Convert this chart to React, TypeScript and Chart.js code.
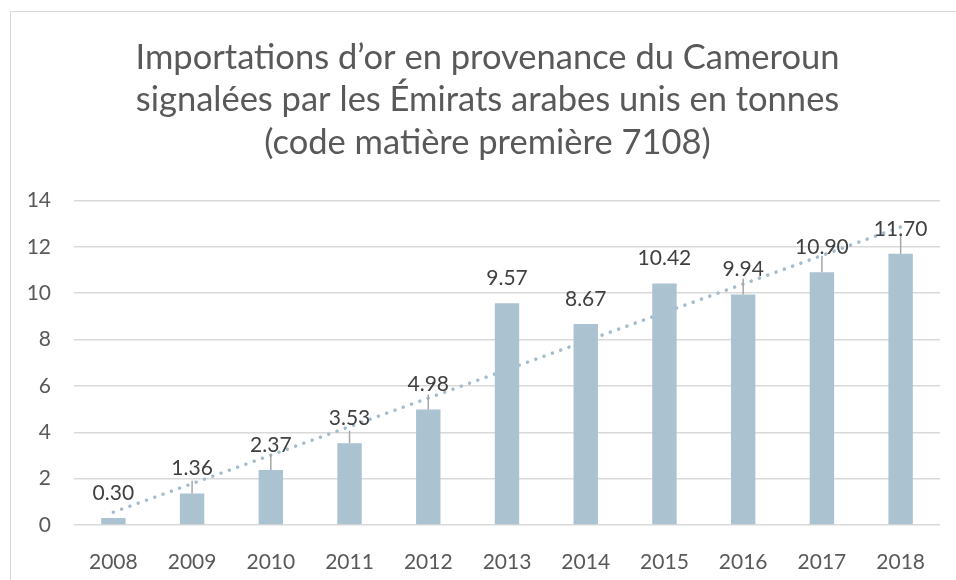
import React, { useEffect, useRef } from "react";
import { Chart, registerables } from "chart.js";

Chart.register(...registerables);

const titleLines = [
  "Importations d’or en provenance du Cameroun",
  "signalées par les Émirats arabes unis en tonnes",
  "(code matière première 7108)",
];
const years = ["2008", "2009", "2010", "2011", "2012", "2013", "2014", "2015", "2016", "2017", "2018"];
const tonnes = [0.3, 1.36, 2.37, 3.53, 4.98, 9.57, 8.67, 10.42, 9.94, 10.9, 11.7];
const errorPlus = [0, 0.55, 0.69, 0.54, 0.65, 0, 0, 0, 0.68, 0.72, 0.8];
const yTicks = [0, 2, 4, 6, 8, 10, 12, 14];

function linearTrend(values: number[]): number[] {
  const n = values.length;
  const mx = (n - 1) / 2;
  const my = values.reduce((a, b) => a + b, 0) / n;
  let sxy = 0;
  let sxx = 0;
  values.forEach((v, i) => {
    sxy += (i - mx) * (v - my);
    sxx += (i - mx) * (i - mx);
  });
  const slope = sxy / sxx;
  return values.map((_, i) => my + slope * (i - mx));
}

const FONT = "Lato, 'Open Sans', 'DejaVu Sans', sans-serif";

const overlayPlugin = {
  id: "overlay",
  beforeDraw(chart: any) {
    const ctx = chart.ctx;
    ctx.save();
    ctx.strokeStyle = "#d9d9d9";
    ctx.lineWidth = 1;
    ctx.strokeRect(10.5, 11.5, 1200, 1200);
    ctx.fillStyle = "#595959";
    ctx.font = `34.5px ${FONT}`;
    ctx.textAlign = "center";
    ctx.textBaseline = "alphabetic";
    const baselines = [68.5, 111, 153.5];
    titleLines.forEach((t, i) => ctx.fillText(t, 487.5, baselines[i]));
    ctx.restore();
  },
  afterDatasetsDraw(chart: any) {
    const ctx = chart.ctx;
    const meta = chart.getDatasetMeta(1);
    const yScale = chart.scales.y;
    ctx.save();
    meta.data.forEach((bar: any, i: number) => {
      const v = tonnes[i];
      const e = errorPlus[i];
      if (e > 0) {
        const yTop = yScale.getPixelForValue(v + e);
        ctx.strokeStyle = "#a6a6a6";
        ctx.lineWidth = 1.5;
        ctx.beginPath();
        ctx.moveTo(bar.x, bar.y);
        ctx.lineTo(bar.x, yTop);
        ctx.stroke();
      }
      ctx.fillStyle = "#404040";
      ctx.font = `21px ${FONT}`;
      ctx.textAlign = "center";
      ctx.textBaseline = "middle";
      ctx.fillText(v.toFixed(2), bar.x, bar.y - 25);
    });
    ctx.restore();
  },
};

export default function App() {
  const ref = useRef<HTMLCanvasElement | null>(null);
  useEffect(() => {
    if (!ref.current) return;
    const chart = new Chart(ref.current, {
      type: "bar",
      data: {
        labels: years,
        datasets: [
          {
            type: "line",
            label: "Tendance",
            data: linearTrend(tonnes),
            borderColor: "#a2bccd",
            borderWidth: 3.5,
            borderDash: [0.01, 8.8],
            borderCapStyle: "round",
            pointRadius: 0,
            fill: false,
            tension: 0,
            order: 2,
          } as any,
          {
            type: "bar",
            label: "Tonnes",
            data: tonnes,
            backgroundColor: "#abc2d0",
            barPercentage: 0.31,
            categoryPercentage: 1,
            order: 1,
          },
        ],
      },
      options: {
        responsive: false,
        animation: false,
        devicePixelRatio: 1,
        layout: { padding: { left: 0, right: 16, top: 200.5, bottom: 0 } },
        plugins: {
          legend: { display: false },
          tooltip: { enabled: false },
          title: { display: false },
        },
        scales: {
          x: {
            grid: { display: false },
            border: { display: false },
            ticks: { color: "#595959", font: { family: FONT, size: 21 }, padding: 17 },
            afterFit: (s: any) => {
              s.height = 55;
            },
          },
          y: {
            min: 0,
            max: 14,
            afterBuildTicks: (s: any) => {
              s.ticks = yTicks.map((v) => ({ value: v }));
            },
            grid: { color: "#d9d9d9", lineWidth: 1.5, drawTicks: false },
            border: { display: false },
            ticks: { color: "#595959", font: { family: FONT, size: 21 }, padding: 23 },
            afterFit: (s: any) => {
              s.width = 74;
            },
          },
        },
      },
      plugins: [overlayPlugin],
    });
    return () => chart.destroy();
  }, []);
  return (
    <div style={{ position: "absolute", left: 0, top: 0, width: 956, height: 580, background: "#fff" }}>
      <canvas ref={ref} width={956} height={580} style={{ display: "block" }} />
    </div>
  );
}
